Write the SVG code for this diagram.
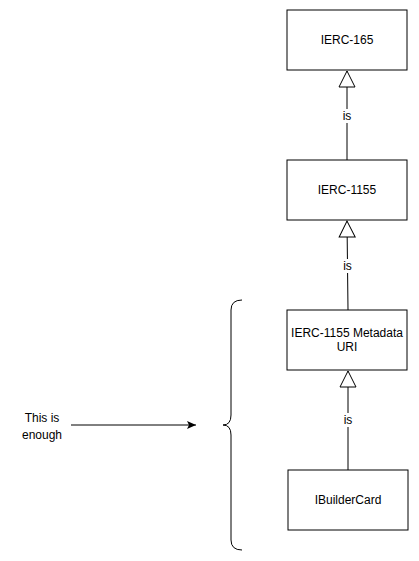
<svg xmlns="http://www.w3.org/2000/svg" width="419" height="561" viewBox="0 0 419 561">
<style>
.box{fill:#fff;stroke:#000;stroke-width:1}
.t{font-family:"Liberation Sans",Arial,sans-serif;font-size:12px;fill:#000;text-anchor:middle;dominant-baseline:central}
.ln{stroke:#000;stroke-width:1;fill:none}
.lbg{fill:#fff}
</style>
<defs>
<marker id="tri" markerWidth="20" markerHeight="20" refX="17" refY="9" orient="auto" markerUnits="userSpaceOnUse">
<path d="M1,1 L17,9 L1,17 Z" fill="#fff" stroke="#000" stroke-width="1"/>
</marker>
<marker id="arr" markerWidth="12" markerHeight="10" refX="9" refY="4" orient="auto" markerUnits="userSpaceOnUse">
<path d="M0,0 L9,4 L0,8 L2,4 Z" fill="#000"/>
</marker>
</defs>
<g id="connectors">
<line class="ln" x1="347" y1="160" x2="347" y2="71" marker-end="url(#tri)"/>
<rect class="lbg" x="341" y="109" width="12" height="14"/>
<text class="t" x="347" y="116">is</text>
<line class="ln" x1="348" y1="310" x2="347" y2="221" marker-end="url(#tri)"/>
<rect class="lbg" x="341" y="259" width="12" height="14"/>
<text class="t" x="347.5" y="266">is</text>
<line class="ln" x1="348" y1="470" x2="348" y2="371" marker-end="url(#tri)"/>
<rect class="lbg" x="342" y="413" width="12" height="14"/>
<text class="t" x="348" y="420">is</text>
<line class="ln" x1="71" y1="425" x2="196" y2="425" marker-end="url(#arr)"/>
</g>
<g id="n1"><rect class="box" x="287" y="10" width="120" height="60"/><text class="t" x="347" y="40">IERC-165</text></g>
<g id="n2"><rect class="box" x="287" y="160" width="120" height="60"/><text class="t" x="347" y="190">IERC-1155</text></g>
<g id="n3"><rect class="box" x="287" y="310" width="120" height="60"/><text class="t" x="347" y="333">IERC-1155 Metadata</text><text class="t" x="347" y="347">URI</text></g>
<g id="n4"><rect class="box" x="288" y="470" width="120" height="60"/><text class="t" x="348" y="500">IBuilderCard</text></g>
<g id="brace"><path class="ln" d="M242,300 Q231,300 231,310 L231,415 Q231,425 223,425 Q231,425 231,435 L231,540 Q231,550 242,550"/></g>
<g id="label"><text class="t" x="42" y="418">This is</text><text class="t" x="42" y="435">enough</text></g>
</svg>
